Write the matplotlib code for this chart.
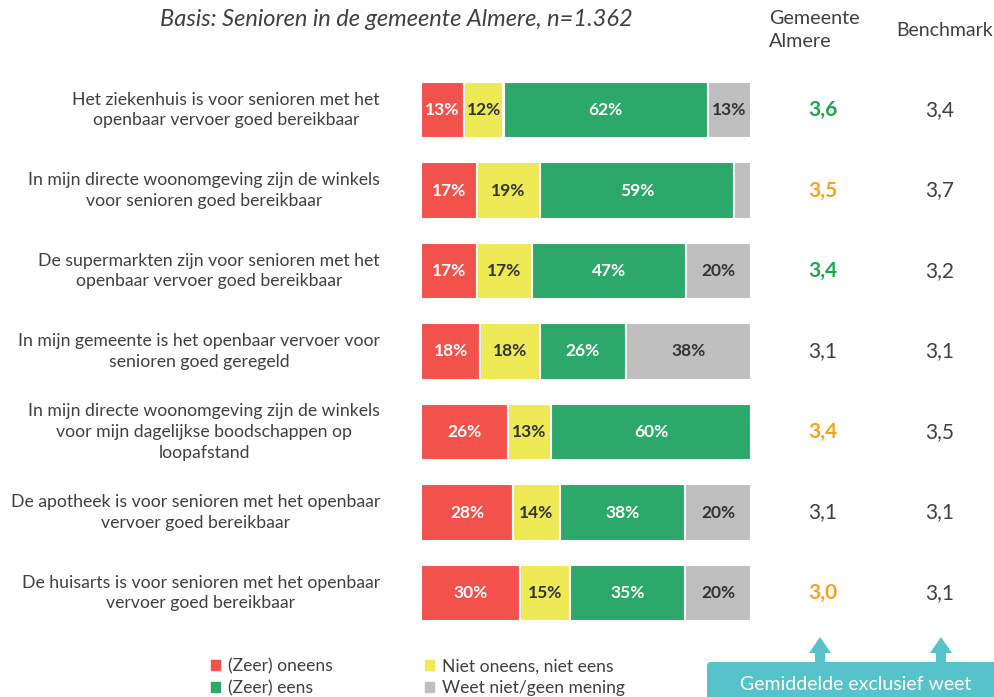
import matplotlib.pyplot as plt
from matplotlib.patches import Patch, FancyBboxPatch, Polygon
from matplotlib.transforms import blended_transform_factory
import numpy as np

# Data
statements = [
    "Het ziekenhuis is voor senioren met het\nopenbaar vervoer goed bereikbaar",
    "In mijn directe woonomgeving zijn de winkels\nvoor senioren goed bereikbaar",
    "De supermarkten zijn voor senioren met het\nopenbaar vervoer goed bereikbaar",
    "In mijn gemeente is het openbaar vervoer voor\nsenioren goed geregeld",
    "In mijn directe woonomgeving zijn de winkels\nvoor mijn dagelijkse boodschappen op\nloopafstand",
    "De apotheek is voor senioren met het openbaar\nvervoer goed bereikbaar",
    "De huisarts is voor senioren met het openbaar\nvervoer goed bereikbaar",
]
oneens = [13, 17, 17, 18, 26, 28, 30]
neutraal = [12, 19, 17, 18, 13, 14, 15]
eens = [62, 59, 47, 26, 60, 38, 35]
weet_niet = [13, 5, 20, 38, 0, 20, 20]
gemeente = ["3,6", "3,5", "3,4", "3,1", "3,4", "3,1", "3,0"]
gemeente_kleur = ["green", "orange", "green", "grey", "orange", "grey", "orange"]
benchmark = ["3,4", "3,7", "3,2", "3,1", "3,5", "3,1", "3,1"]
categorieen = ["(Zeer) oneens", "(Zeer) eens", "Niet oneens, niet eens", "Weet niet/geen mening"]

# Colors
red = '#f2524b'
yellow = '#eeea55'
green = '#2da86b'
grey = '#bfbfbf'
teal = '#55c3c9'
text_dark = '#404040'
score_colors = {"green": '#1aa550', "orange": '#f7a21b', "grey": text_dark}

plt.rcParams['font.family'] = ['Lato', 'DejaVu Sans']

W, H = 995, 697
fig = plt.figure(figsize=(W / 100, H / 100), dpi=100)

# Bar axes positioned in pixel space
left, right = 421, 751
top, bottom = 69.75, 633.25
ax = fig.add_axes([left / W, 1 - bottom / H, (right - left) / W, (bottom - top) / H])
ax.set_xlim(0, 100)
ax.set_ylim(len(statements) - 0.5, -0.5)
ax.axis('off')

y = np.arange(len(statements))
series = [(oneens, red, 'white'), (neutraal, yellow, '#333333'),
          (eens, green, 'white'), (weet_niet, grey, '#333333')]
# 100% stacked: each row scaled to its own total, like the original chart
totals = np.array(oneens) + np.array(neutraal) + np.array(eens) + np.array(weet_niet)
cum = np.zeros(len(statements))
for vals, col, tcol in series:
    vals = np.array(vals, dtype=float)
    widths = vals / totals * 100
    ax.barh(y, widths, left=cum, height=0.70, color=col, edgecolor='white', linewidth=1.5)
    for yi, (v, w, c) in enumerate(zip(vals, widths, cum)):
        if v >= 10:
            ax.text(c + w / 2, yi, f"{int(v)}%", ha='center', va='center',
                    color=tcol, fontsize=12.5, fontweight='bold')
    cum += widths

# Row labels and score columns
tr = blended_transform_factory(fig.transFigure, ax.transData)
for yi, lab in enumerate(statements):
    ax.text(380 / W, yi, lab, transform=tr, ha='right', va='center',
            multialignment='center', fontsize=12.7, color=text_dark, linespacing=1.35)
    ax.text(823 / W, yi, gemeente[yi], transform=tr, ha='center', va='center',
            fontsize=15, color=score_colors[gemeente_kleur[yi]],
            fontweight='bold' if gemeente_kleur[yi] != "grey" else 'normal')
    ax.text(940 / W, yi, benchmark[yi], transform=tr, ha='center', va='center',
            fontsize=15, color=text_dark)

# Header texts
fig.text(396 / W, 1 - 20 / H, "Basis: Senioren in de gemeente Almere, n=1.362",
         ha='center', va='center', fontsize=17, style='italic', color=text_dark)
fig.text(769 / W, 1 - 30 / H, "Gemeente\nAlmere", ha='left', va='center',
         fontsize=14.2, color=text_dark, linespacing=1.4)
fig.text(945 / W, 1 - 31 / H, "Benchmark", ha='center', va='center',
         fontsize=14, color=text_dark)

# Legend
handles = [Patch(color=red), Patch(color=green), Patch(color=yellow), Patch(color=grey)]
fig.legend(handles, categorieen, ncol=2, frameon=False, loc='upper left',
           bbox_to_anchor=(211 / W, 1 - 658 / H), fontsize=12.6,
           handlelength=0.5, handleheight=0.5, handletextpad=0.45,
           columnspacing=5.3, labelspacing=0.35, labelcolor=text_dark,
           borderaxespad=0, borderpad=0)

# Teal box with arrows (overlay in pixel coords)
ov = fig.add_axes([0, 0, 1, 1], facecolor='none')
ov.set_xlim(0, W)
ov.set_ylim(H, 0)
ov.axis('off')
ov.add_patch(FancyBboxPatch((707, 662), 300, 50, boxstyle="round,pad=0,rounding_size=4",
                            facecolor=teal, edgecolor='none'))
for ax_x in (820, 941):
    ov.add_patch(Polygon([(ax_x - 5, 662), (ax_x - 5, 653), (ax_x - 11, 653),
                          (ax_x, 637), (ax_x + 11, 653), (ax_x + 5, 653), (ax_x + 5, 662)],
                         closed=True, facecolor=teal, edgecolor='none'))
ov.text(856, 684, "Gemiddelde exclusief weet", ha='center', va='center',
        fontsize=14, color='white')

fig.savefig('out.png', dpi=100, facecolor='white')
